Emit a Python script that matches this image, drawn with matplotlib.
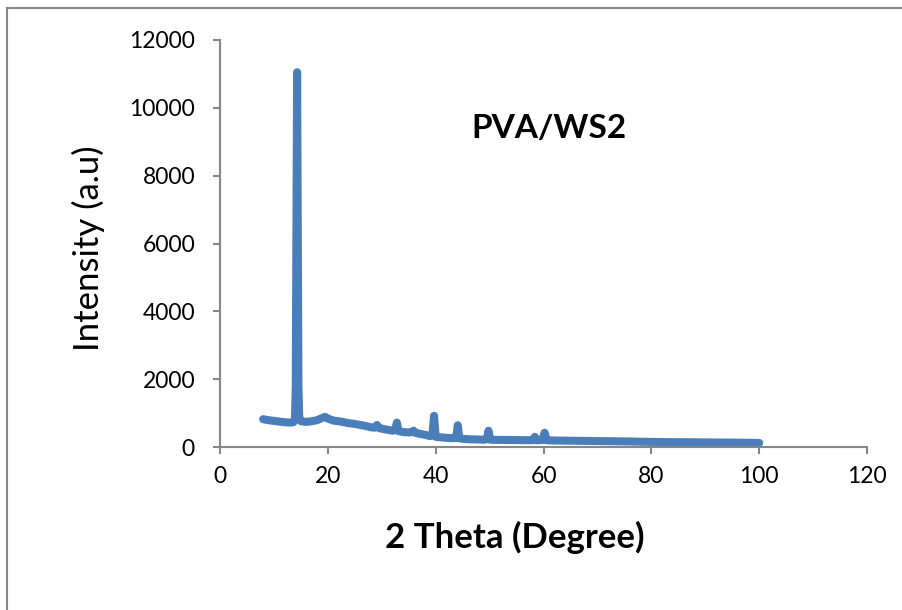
import matplotlib
matplotlib.use("Agg")
import matplotlib.pyplot as plt
from matplotlib.lines import Line2D

# XRD pattern
two_theta = [8.0, 9.0, 10.0, 11.0, 12.0, 13.0, 13.6, 13.9, 14.05, 14.15, 14.3, 14.45,
             14.55, 14.7, 15.0, 16.0, 17.0, 18.0, 19.0, 19.5, 20.0, 21.0, 22.0, 23.0,
             24.0, 25.0, 26.0, 27.0, 28.0, 28.7, 29.1, 29.5, 30.0, 31.0, 32.0, 32.5,
             32.8, 33.1, 34.0, 35.0, 35.6, 35.9, 36.2, 37.0, 38.0, 39.0, 39.4, 39.7,
             40.0, 41.0, 42.0, 43.0, 43.8, 44.1, 44.4, 45.0, 46.0, 47.0, 48.0, 49.0,
             49.5, 49.8, 50.1, 51.0, 53.0, 55.0, 57.0, 58.0, 58.4, 58.7, 59.8, 60.2,
             60.6, 62.0, 65.0, 70.0, 75.0, 80.0, 85.0, 88.0, 90.0, 95.0, 100.0]
intensity = [820, 790, 770, 750, 730, 720, 730, 800, 1800, 5500, 11050, 5500,
             1800, 850, 760, 740, 760, 790, 860, 890, 840, 780, 760, 730,
             700, 680, 650, 620, 580, 570, 650, 560, 540, 510, 480, 500,
             720, 470, 440, 430, 440, 480, 420, 390, 360, 320, 360, 920,
             300, 285, 270, 260, 265, 640, 255, 240, 230, 225, 220, 215,
             230, 480, 215, 210, 208, 205, 200, 200, 300, 200, 205, 420,
             200, 190, 185, 175, 165, 150, 140, 140, 135, 130, 120]

x_ticks = [0, 20, 40, 60, 80, 100, 120]
y_ticks = [0, 2000, 4000, 6000, 8000, 10000, 12000]

plt.rcParams['font.family'] = ['Lato', 'DejaVu Sans']

fig = plt.figure(figsize=(9.02, 6.10), dpi=100)
ax = fig.add_axes([220 / 902, 1 - 447 / 610, 647 / 902, 407 / 610])

ax.plot(two_theta, intensity, color='#4a7ebb', linewidth=5.8,
        solid_capstyle='round', solid_joinstyle='round')

ax.set_xlim(0, 120)
ax.set_ylim(0, 12000)
ax.set_xticks(x_ticks)
ax.set_yticks(y_ticks)
ax.tick_params(axis='both', direction='out', length=5, width=1.5, color='#868686',
               labelsize=16.5, labelcolor='black')
ax.tick_params(axis='y', pad=13)
ax.tick_params(axis='x', pad=9)
for s in ['top', 'right']:
    ax.spines[s].set_visible(False)
for s in ['left', 'bottom']:
    ax.spines[s].set_color('#868686')
    ax.spines[s].set_linewidth(1.5)

ax.text(61, 9400, 'PVA/WS2', fontsize=24, fontweight='bold', ha='center', va='center')

fig.text(515 / 902, 1 - 537 / 610, '2 Theta (Degree)', fontsize=25, fontweight='bold',
         ha='center', va='center')
fig.text(88 / 902, 1 - 248 / 610, 'Intensity (a.u)', fontsize=25, rotation=90,
         ha='center', va='center')

# chart border (only left and top edges show in the crop)
fig.add_artist(Line2D([7 / 902, 7 / 902], [0, 1 - 8 / 610], transform=fig.transFigure,
                      color='#898989', linewidth=1.5))
fig.add_artist(Line2D([7 / 902, 1], [1 - 8 / 610, 1 - 8 / 610], transform=fig.transFigure,
                      color='#898989', linewidth=1.5))

fig.savefig('out.png', dpi=100)
